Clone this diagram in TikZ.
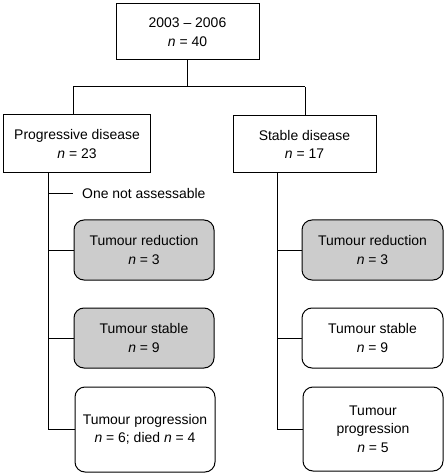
\documentclass[tikz,border=0pt]{standalone}
\usepackage{fontspec}
\setmainfont{Liberation Sans}
\begin{document}
\begin{tikzpicture}[x=1bp,y=-1bp,
  every node/.style={font=\fontsize{14}{18.5}\selectfont},
  sq/.style={draw, line width=1bp, align=center, inner sep=0pt},
  rnd/.style={draw, line width=1bp, align=center, inner sep=0pt, rounded corners=10bp},
  grey/.style={fill=black!20},
  con/.style={line width=1bp}]
\useasboundingbox (0,0) rectangle (448,474);
\newcommand{\nn}{\textit{n}}
\node[sq, minimum width=143bp, minimum height=56bp] (top) at (187.5,32) {2003 -- 2006\\ \nn{} = 40};
\node[sq, minimum width=146bp, minimum height=58bp] (pd) at (77,144) {Progressive disease\\ \nn{} = 23};
\node[sq, minimum width=143bp, minimum height=57bp] (sd) at (304.5,144.5) {Stable disease\\ \nn{} = 17};
\node[rnd, grey, minimum width=140bp, minimum height=60bp] (lr) at (144,250) {Tumour reduction\\ \nn{} = 3};
\node[rnd, grey, minimum width=140bp, minimum height=60bp] (ls) at (144,338) {Tumour stable\\ \nn{} = 9};
\node[rnd, minimum width=140bp, minimum height=85bp] (lp) at (145,429.5) {Tumour progression\\ \nn{} = 6; died \nn{} = 4};
\node[rnd, grey, minimum width=141bp, minimum height=60bp] (rr) at (372.5,250) {Tumour reduction\\ \nn{} = 3};
\node[rnd, minimum width=141bp, minimum height=60bp] (rs) at (372.5,338) {Tumour stable\\ \nn{} = 9};
\node[rnd, minimum width=140bp, minimum height=84bp] (rp) at (373,429) {Tumour\\ progression\\ \nn{} = 5};
\node[anchor=west, inner sep=0pt] (na) at (82,194) {One not assessable};
% top split
\coordinate (j) at (top.south |- 0,87);
\coordinate (jl) at (73,87);
\coordinate (jr) at (305,87);
\draw[con] (top.south) -- (j);
\draw[con] (jl) -- (jr);
\draw[con] (jl) -- (jl |- pd.north);
\draw[con] (jr) -- (jr |- sd.north);
% left trunk
\coordinate (lt) at (48,0);
\draw[con] (lt |- pd.south) -- (lt |- lp.west) -- (lp.west);
\draw[con] (lt |- na.west) -- (73,194);
\draw[con] (lt |- lr.west) -- (lr.west);
\draw[con] (lt |- ls.west) -- (ls.west);
% right trunk
\coordinate (rt) at (277,0);
\draw[con] (rt |- sd.south) -- (rt |- rp.west) -- (rp.west);
\draw[con] (rt |- rr.west) -- (rr.west);
\draw[con] (rt |- rs.west) -- (rs.west);
\end{tikzpicture}
\end{document}
